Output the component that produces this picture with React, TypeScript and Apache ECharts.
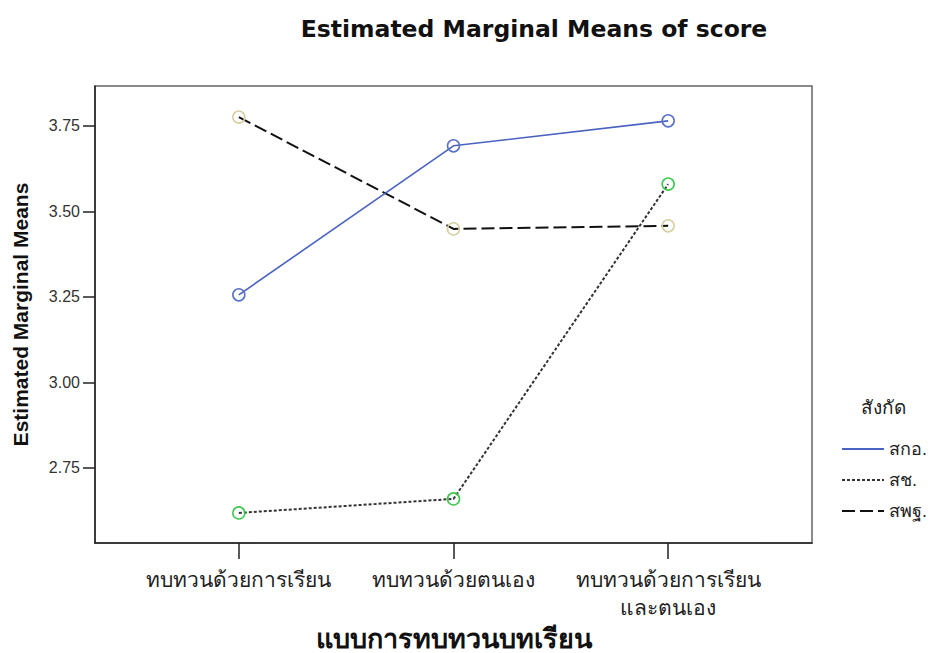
import React, { useEffect, useRef } from "react";
import * as echarts from "echarts";

const categories = ["ทบทวนด้วยการเรียน", "ทบทวนด้วยตนเอง", "ทบทวนด้วยการเรียน\nและตนเอง"];
const seriesNames = ["สกอ.", "สช.", "สพฐ."];
const valuesSKO = [3.256, 3.692, 3.765];
const valuesSCH = [2.618, 2.659, 3.58];
const valuesSPT = [3.776, 3.449, 3.458];
const yTicks = [2.75, 3.0, 3.25, 3.5, 3.75];
const xTicks = [0, 1, 2];

export default function App() {
  const ref = useRef<HTMLDivElement>(null);
  useEffect(() => {
    document.body.style.margin = "0";
    const chart = echarts.init(ref.current!, null, { renderer: "svg" });
    const mk = (vals: number[]) => vals.map((v, i) => [i, v]);
    const font = "Arial, 'Liberation Sans', sans-serif";
    chart.setOption({
      animation: false,
      backgroundColor: "#fff",
      title: {
        text: "Estimated Marginal Means of score",
        left: 529,
        top: 12,
        textAlign: "center",
        textStyle: { fontFamily: "'DejaVu Sans', sans-serif", fontWeight: "bold", fontSize: 23.5, color: "#111" },
      },
      grid: {
        left: 95,
        right: 123,
        top: 86,
        bottom: 110,
        show: true,
        borderColor: "#666",
        borderWidth: 1.5,
        containLabel: false,
        outerBoundsMode: "none",
      },
      legend: {
        orient: "vertical",
        left: 836,
        top: 435,
        itemWidth: 42,
        itemHeight: 14,
        itemGap: 13,
        data: seriesNames,
        itemStyle: { opacity: 0 },
        textStyle: { fontSize: 18, color: "#222", fontFamily: font },
      },
      graphic: [
        {
          type: "text",
          left: 861,
          top: 398,
          style: { text: "สังกัด", fontSize: 19, fill: "#222", fontFamily: font },
        },
      ],
      xAxis: {
        type: "value",
        min: -0.67,
        max: 2.67,
        name: "แบบการทบทวนบทเรียน",
        nameLocation: "middle",
        nameGap: 82,
        nameTextStyle: { fontSize: 27, fontWeight: "bold", color: "#111", fontFamily: font },
        splitLine: { show: false },
        axisLine: { lineStyle: { color: "#222", width: 1.5 } },
        axisTick: { customValues: xTicks, length: 16, lineStyle: { color: "#222", width: 1.5 } },
        axisLabel: {
          customValues: xTicks,
          formatter: (v: number) => categories[Math.round(v)],
          fontSize: 21,
          color: "#222",
          fontFamily: font,
          margin: 22,
          lineHeight: 28,
        },
      },
      yAxis: {
        type: "value",
        min: 2.53,
        max: 3.867,
        name: "Estimated Marginal Means",
        nameLocation: "middle",
        nameGap: 64,
        nameTextStyle: {
          fontSize: 21,
          fontWeight: "bold",
          color: "#111",
          fontFamily: font,
        },
        splitLine: { show: false },
        axisLine: { show: true, onZero: false, lineStyle: { color: "#222", width: 1.5 } },
        axisTick: { customValues: yTicks, length: 12, lineStyle: { color: "#222", width: 1.5 } },
        axisLabel: {
          customValues: yTicks,
          formatter: (v: number) => v.toFixed(2),
          fontSize: 16,
          color: "#333",
          fontFamily: font,
          margin: 15,
        },
      },
      series: [
        {
          name: seriesNames[0],
          type: "line",
          data: mk(valuesSKO),
          symbol: "circle",
          symbolSize: 12,
          color: "#4a62c0",
          lineStyle: { color: "#4a62c0", width: 1.6 },
          itemStyle: { color: "rgba(0,0,0,0)", borderColor: "#5a72c8", borderWidth: 1.6 },
          z: 3,
        },
        {
          name: seriesNames[1],
          type: "line",
          data: mk(valuesSCH),
          symbol: "circle",
          symbolSize: 12,
          color: "#333",
          lineStyle: { color: "#333", width: 2, type: [3, 2] },
          itemStyle: { color: "rgba(0,0,0,0)", borderColor: "#3ec84e", borderWidth: 1.6 },
          z: 2,
        },
        {
          name: seriesNames[2],
          type: "line",
          data: mk(valuesSPT),
          symbol: "circle",
          symbolSize: 12,
          color: "#111",
          lineStyle: { color: "#111", width: 2, type: [13, 5] },
          itemStyle: { color: "rgba(0,0,0,0)", borderColor: "#d6d0a0", borderWidth: 1.6 },
          z: 2,
        },
      ],
    });
    return () => chart.dispose();
  }, []);
  return <div ref={ref} style={{ width: 935, height: 653 }} />;
}
